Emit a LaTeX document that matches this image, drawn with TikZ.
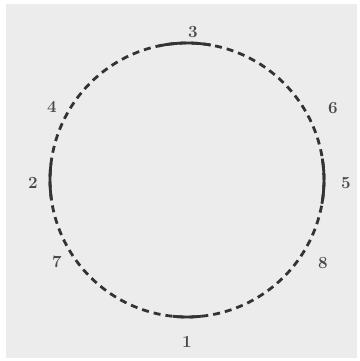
\documentclass[tikz,border=0pt]{standalone}
\usetikzlibrary{calc}
\definecolor{bg}{HTML}{ECECEC}
\definecolor{ink}{HTML}{333333}
\definecolor{lab}{HTML}{4A4A4A}
\tikzset{
  ring/.style={draw=ink, line width=2.8pt, dash pattern=on 7pt off 5pt},
  solidarc/.style={draw=ink, line width=2.8pt},
  numlab/.style={text=lab, font=\fontsize{17}{17}\selectfont\bfseries, inner sep=0pt}
}
\begin{document}
\begin{tikzpicture}[x=1pt,y=1pt]
\fill[white] (0,0) rectangle (359,361);
\fill[bg] (6,3) rectangle (357,357);
\useasboundingbox (0,0) rectangle (359,361);
\coordinate (c) at (187,181);
\node[circle, minimum size=274pt, inner sep=0pt, ring] (ring) at (c) {};
\draw[solidarc] ($(c)+(80:137)$) arc (80:102:137);
\draw[solidarc] ($(c)+(264:137)$) arc (264:276:137);
\draw[solidarc] ($(c)+(173:137)$) arc (173:188:137);
\draw[solidarc] ($(c)+(-10:137)$) arc (-10:9:137);
\node[numlab] (n3) at (193,329) {3};
\node[numlab] (n1) at (187,19) {1};
\node[numlab] (n4) at (52,254) {4};
\node[numlab] (n2) at (33,178) {2};
\node[numlab] (n7) at (57,99) {7};
\node[numlab] (n6) at (333,253) {6};
\node[numlab] (n5) at (346,178) {5};
\node[numlab] (n8) at (323,98) {8};
\end{tikzpicture}
\end{document}
